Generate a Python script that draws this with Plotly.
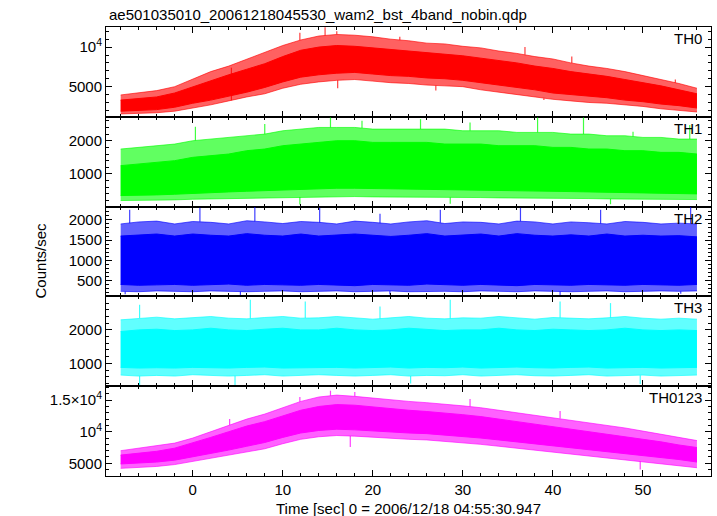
import numpy as np
import plotly.graph_objects as go
from plotly.subplots import make_subplots

# ---- data ----
# time grid of the envelope readings (sec)
time_s = [-8, -6, -4, -2, 0, 2, 4, 6, 8, 10, 12, 14, 16, 18, 20, 22, 24, 26, 28, 30,
          32, 34, 36, 38, 40, 42, 44, 46, 48, 50, 52, 54, 56]

# TH0: dense core and outer (sparse) fringe of the noisy curve
th0_core_hi = [3300, 3500, 3700, 4200, 5000, 5800, 6500, 7200, 7900, 8800, 9600, 10000, 10200,
               10100, 9900, 9700, 9500, 9300, 9100, 8900, 8600, 8300, 8000, 7600, 7300, 6900,
               6600, 6300, 5900, 5500, 5100, 4600, 4100]
th0_core_lo = [1900, 2000, 2100, 2400, 2900, 3300, 3800, 4300, 4900, 5600, 6200, 6500, 6700,
               6800, 6600, 6400, 6300, 6100, 6000, 5800, 5500, 5200, 4900, 4600, 4200, 4000,
               3800, 3600, 3300, 3100, 2800, 2600, 2300]
th0_edge_hi = [3950, 4200, 4500, 5000, 6000, 6900, 7600, 8500, 9300, 10200, 10900, 11400, 11600,
               11500, 11300, 11000, 10800, 10500, 10400, 10100, 9900, 9500, 9200, 8800, 8500,
               8000, 7600, 7300, 6900, 6400, 5900, 5400, 4800]
th0_edge_lo = [1550, 1600, 1700, 1900, 2300, 2700, 3200, 3700, 4100, 4800, 5300, 5600, 5800,
               5900, 5700, 5500, 5400, 5200, 5100, 5000, 4600, 4300, 4000, 3700, 3400, 3200,
               3000, 2900, 2700, 2500, 2200, 2000, 1800]

th1_core_hi = [1250, 1300, 1350, 1400, 1500, 1550, 1600, 1700, 1750, 1850, 1900, 1950, 2000,
               2000, 1950, 1950, 1950, 1950, 1900, 1900, 1900, 1850, 1850, 1850, 1800, 1800,
               1750, 1750, 1700, 1700, 1650, 1650, 1600]
th1_core_lo = [350, 350, 370, 390, 420, 440, 460, 480, 500, 520, 540, 560, 570, 570, 560, 550,
               550, 540, 540, 530, 520, 510, 500, 490, 480, 470, 460, 450, 440, 430, 420, 410, 400]
th1_edge_hi = [1750, 1800, 1850, 1900, 2000, 2050, 2100, 2150, 2200, 2300, 2350, 2400, 2400,
               2400, 2350, 2350, 2350, 2350, 2350, 2300, 2300, 2300, 2250, 2250, 2250, 2200,
               2200, 2150, 2150, 2100, 2100, 2050, 2050]
th1_edge_lo = [200, 200, 210, 220, 240, 250, 260, 280, 290, 300, 310, 320, 320, 320, 310, 310,
               300, 300, 300, 290, 290, 280, 280, 270, 270, 260, 260, 250, 250, 240, 240, 230, 230]

th2_core_hi = [1600, 1620, 1650, 1600, 1650, 1620, 1600, 1660, 1620, 1600, 1650, 1600, 1630,
               1650, 1620, 1590, 1620, 1660, 1600, 1620, 1650, 1600, 1660, 1620, 1600, 1630,
               1600, 1650, 1600, 1620, 1600, 1610, 1580]
th2_core_lo = [400, 380, 390, 400, 380, 390, 410, 380, 400, 390, 380, 400, 390, 370, 400, 390,
               380, 410, 390, 380, 400, 390, 370, 400, 390, 380, 400, 390, 380, 400, 390, 380, 400]
th2_edge_hi = [1900, 1950, 1970, 1900, 1960, 1940, 1900, 1980, 1950, 1910, 1960, 1940, 1900,
               1970, 1940, 1900, 1950, 1980, 1910, 1950, 1940, 1900, 1970, 1950, 1900, 1950,
               1930, 1900, 1960, 1940, 1900, 1920, 1900]
th2_edge_lo = [230, 220, 240, 230, 220, 240, 230, 220, 230, 240, 220, 230, 240, 220, 230, 240,
               220, 230, 230, 220, 240, 230, 220, 240, 230, 220, 230, 240, 220, 230, 240, 230, 240]

th3_core_hi = [1950, 2000, 2020, 1980, 2000, 2050, 2000, 1980, 2020, 2050, 2000, 2000, 2050,
               2000, 1980, 2000, 2050, 2020, 1980, 2000, 2000, 2050, 2000, 1980, 2020, 2000,
               1980, 2000, 2050, 2000, 1980, 2000, 1980]
th3_core_lo = [880, 860, 870, 860, 880, 870, 860, 880, 890, 860, 870, 890, 880, 860, 870, 890,
               860, 880, 870, 890, 860, 880, 890, 870, 860, 880, 890, 860, 870, 880, 860, 870, 880]
th3_edge_hi = [2300, 2350, 2380, 2330, 2360, 2400, 2350, 2330, 2370, 2400, 2350, 2360, 2400,
               2350, 2320, 2360, 2400, 2350, 2330, 2360, 2350, 2400, 2360, 2320, 2370, 2350,
               2330, 2360, 2400, 2350, 2320, 2350, 2320]
th3_edge_lo = [650, 620, 640, 620, 660, 630, 620, 640, 660, 620, 630, 660, 640, 620, 640, 660,
               620, 640, 630, 660, 620, 640, 660, 630, 620, 640, 660, 620, 640, 650, 620, 630, 650]

th0123_core_hi = [6300, 6600, 6900, 7400, 8200, 9100, 10000, 10900, 11600, 12500, 13400, 14000,
                  14300, 14200, 13900, 13600, 13400, 13200, 13000, 12700, 12400, 12000, 11700,
                  11300, 10900, 10500, 10100, 9700, 9300, 8900, 8400, 7900, 7500]
th0123_core_lo = [4900, 5000, 5200, 5500, 6000, 6600, 7100, 7700, 8300, 9100, 9800, 10200, 10400,
                  10300, 10100, 10000, 9800, 9700, 9500, 9300, 9000, 8700, 8400, 8100, 7800,
                  7500, 7200, 6900, 6600, 6300, 5900, 5600, 5200]
th0123_edge_hi = [7000, 7400, 7700, 8200, 9000, 10000, 11000, 12000, 12800, 13800, 14800, 15500,
                  15800, 15600, 15300, 15000, 14800, 14600, 14400, 14100, 13800, 13400, 13100,
                  12700, 12300, 11800, 11400, 11000, 10600, 10100, 9600, 9100, 8600]
th0123_edge_lo = [4200, 4300, 4500, 4800, 5300, 5800, 6300, 6800, 7300, 8100, 8800, 9200, 9400,
                  9300, 9100, 9000, 8800, 8700, 8500, 8300, 8000, 7700, 7400, 7100, 6800, 6500,
                  6200, 5900, 5600, 5300, 4900, 4600, 4300]

# notable single-bin spikes beyond the fringe: (time, peak value)
th0_spk_t = [4.3, 11.9, 14.7, 16.0, 23.0, 36.9, 42.1, 53.6, 16.1, 27.0, 39.0]
th0_spk_v = [7400, 11800, 12500, 12000, 11300, 10000, 8800, 5900, 4800, 4500, 3300]
th1_spk_t = [0.3, 8.0, 15.3, 18.8, 25.3, 30.8, 38.3, 43.4, 48.9, 55.2, 11.9, 28.6, 46.4]
th1_spk_v = [2420, 2500, 2700, 2600, 2650, 2550, 2700, 2700, 2270, 2470, 80, 100, 90]
th2_spk_t = [-7.0, 0.8, 6.9, 14.1, 20.8, 27.5, 36.4, 45.3, 55.3, -7.5, 5.3, 21.9, 40.8, 54.2]
th2_spk_v = [2250, 2300, 2330, 2300, 2150, 2250, 2300, 2250, 2330, 160, 140, 150, 130, 170]
th3_spk_t = [-5.9, 6.4, 12.5, 20.8, 28.6, 40.8, 46.4, -5.9, 4.7, 24.2, 49.7]
th3_spk_v = [2750, 2900, 2850, 2700, 2900, 2850, 2800, 350, 330, 400, 380]
th0123_spk_t = [4.1, 11.9, 15.3, 18.0, 30.8, 40.8, 17.5, 49.7]
th0123_spk_v = [12000, 15500, 16500, 16300, 15200, 13300, 7600, 4000]

band_names = ["TH0", "TH1", "TH2", "TH3", "TH0123"]
band_colors = ["#ff0000", "#00ff00", "#0000ff", "#00ffff", "#ff00ff"]
band_rgba = ["rgba(255,0,0,0.62)", "rgba(0,255,0,0.62)", "rgba(0,0,255,0.62)",
             "rgba(0,255,255,0.62)", "rgba(255,0,255,0.62)"]
core_hi = [th0_core_hi, th1_core_hi, th2_core_hi, th3_core_hi, th0123_core_hi]
core_lo = [th0_core_lo, th1_core_lo, th2_core_lo, th3_core_lo, th0123_core_lo]
edge_hi = [th0_edge_hi, th1_edge_hi, th2_edge_hi, th3_edge_hi, th0123_edge_hi]
edge_lo = [th0_edge_lo, th1_edge_lo, th2_edge_lo, th3_edge_lo, th0123_edge_lo]
spk_t = [th0_spk_t, th1_spk_t, th2_spk_t, th3_spk_t, th0123_spk_t]
spk_v = [th0_spk_v, th1_spk_v, th2_spk_v, th3_spk_v, th0123_spk_v]

y_ranges = [[1190, 12540], [18, 2720], [104, 2330], [318, 3000], [2990, 17210]]
y_tickvals = [[5000, 10000], [1000, 2000], [500, 1000, 1500, 2000], [1000, 2000],
              [5000, 10000, 15000]]
y_ticktext = [["5000", "10<sup>4</sup>"], ["1000", "2000"], ["500", "1000", "1500", "2000"],
              ["1000", "2000"], ["5000", "10<sup>4</sup>", "1.5×10<sup>4</sup>"]]
y_minor = [1000, 200, 100, 200, 1000]

x_range = [-9.63, 57.56]
title_text = "ae501035010_20061218045530_wam2_bst_4band_nobin.qdp"
x_label = "Time [sec] 0 = 2006/12/18 04:55:30.947"
y_label = "Counts/sec"

# ---- figure ----
FONT = "Liberation Sans, Arial, Helvetica, sans-serif"
fig = make_subplots(rows=5, cols=1, shared_xaxes=True, vertical_spacing=0)

for i in range(5):
    r = i + 1
    c = band_colors[i]
    fa = band_rgba[i]
    # sparse outer fringe
    fig.add_trace(go.Scatter(x=time_s, y=edge_lo[i], mode="lines",
                             line=dict(color=fa, width=1),
                             showlegend=False, hoverinfo="skip"), row=r, col=1)
    fig.add_trace(go.Scatter(x=time_s, y=edge_hi[i], mode="lines",
                             line=dict(color=fa, width=1),
                             fill="tonexty", fillcolor=fa,
                             showlegend=False, hoverinfo="skip"), row=r, col=1)
    # dense core
    fig.add_trace(go.Scatter(x=time_s, y=core_lo[i], mode="lines",
                             line=dict(color=c, width=1),
                             showlegend=False, hoverinfo="skip"), row=r, col=1)
    fig.add_trace(go.Scatter(x=time_s, y=core_hi[i], mode="lines",
                             line=dict(color=c, width=1),
                             fill="tonexty", fillcolor=c,
                             showlegend=False, hoverinfo="skip"), row=r, col=1)
    # spikes: strokes from the fringe edge to the spike value
    hi_at = np.interp(spk_t[i], time_s, edge_hi[i])
    lo_at = np.interp(spk_t[i], time_s, edge_lo[i])
    sx, sy = [], []
    for tt, vv, h, l in zip(spk_t[i], spk_v[i], hi_at, lo_at):
        base = h if vv > h else l
        sx += [tt, tt, None]
        sy += [base, vv, None]
    fig.add_trace(go.Scatter(x=sx, y=sy, mode="lines", line=dict(color=c, width=1.2),
                             opacity=0.75, showlegend=False, hoverinfo="skip"),
                  row=r, col=1)
    fig.update_yaxes(row=r, col=1, range=y_ranges[i], tickvals=y_tickvals[i],
                     ticktext=y_ticktext[i], ticks="inside", ticklen=6, tickwidth=1,
                     tickcolor="black", showline=True, linecolor="black", linewidth=1,
                     mirror="allticks", showgrid=False, zeroline=False,
                     minor=dict(ticks="inside", ticklen=3, dtick=y_minor[i],
                                tick0=0, tickcolor="black", showgrid=False),
                     tickfont=dict(family=FONT, size=15, color="black"))
    fig.update_xaxes(row=r, col=1, range=x_range, dtick=10, tick0=0,
                     ticks="inside", ticklen=6, tickwidth=1, tickcolor="black",
                     showline=True, linecolor="black", linewidth=1, mirror="allticks",
                     showgrid=False, zeroline=False, showticklabels=(r == 5),
                     minor=dict(ticks="inside", ticklen=3, dtick=2, tick0=0,
                                tickcolor="black", showgrid=False),
                     tickfont=dict(family=FONT, size=15, color="black"))

W, H = 717, 516
ml, mr, mt, mb = 106, 6, 27, 40
fig.update_layout(width=W, height=H, margin=dict(l=ml, r=mr, t=mt, b=mb),
                  paper_bgcolor="white", plot_bgcolor="white",
                  font=dict(family=FONT, size=15, color="black"))

ann = []
for i in range(5):
    dom = fig.layout["yaxis" + ("" if i == 0 else str(i + 1))].domain
    ann.append(dict(text=band_names[i], x=1, xref="paper", xanchor="right",
                    y=dom[1], yref="paper", yanchor="top", xshift=-7, yshift=-1,
                    showarrow=False, font=dict(family=FONT, size=15, color="black")))
ann.append(dict(text=title_text, x=0, xref="paper", xanchor="left", xshift=1,
                y=1, yref="paper", yanchor="bottom", yshift=2, showarrow=False,
                font=dict(family=FONT, size=15, color="black")))
ann.append(dict(text=x_label, x=0.5, xref="paper", xanchor="center",
                y=0, yref="paper", yanchor="top", yshift=-22, showarrow=False,
                font=dict(family=FONT, size=15, color="black")))
ann.append(dict(text=y_label, x=0, xref="paper", xanchor="center", xshift=-66,
                y=0.48, yref="paper", yanchor="middle", textangle=-90, showarrow=False,
                font=dict(family=FONT, size=15, color="black")))
fig.update_layout(annotations=ann)

fig.write_html("out.html", config={"displayModeBar": False},
               post_script="document.body.style.margin='0px';"
                           "document.body.style.overflow='hidden';")
